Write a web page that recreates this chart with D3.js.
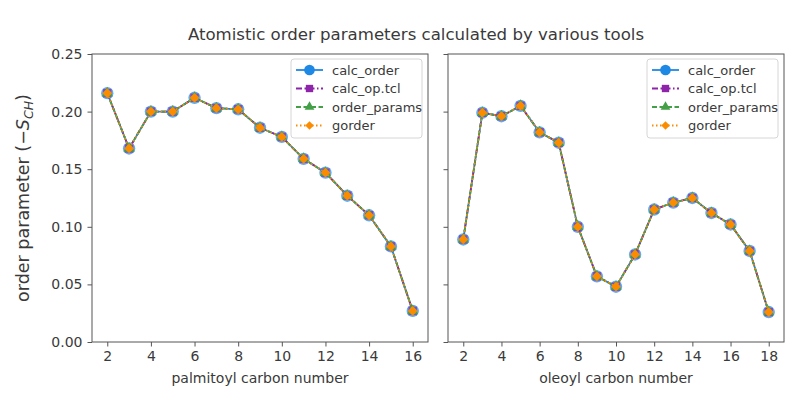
<!DOCTYPE html>
<html>
<head>
<meta charset="utf-8">
<script src="https://cdn.jsdelivr.net/npm/d3@7"></script>
<style>
  body { margin: 0; background: #fff; }
  svg, svg text { font-family: "DejaVu Sans", sans-serif; }
</style>
</head>
<body>
<svg id="container" width="800" height="400"></svg>
<script>
// data
var palmitoylCarbons = [2, 3, 4, 5, 6, 7, 8, 9, 10, 11, 12, 13, 14, 15, 16];
var palmitoylOrder = [0.216, 0.168, 0.200, 0.200, 0.212, 0.203, 0.202, 0.186, 0.178, 0.159, 0.147, 0.127, 0.110, 0.083, 0.027];
var oleoylCarbons = [2, 3, 4, 5, 6, 7, 8, 9, 10, 11, 12, 13, 14, 15, 16, 17, 18];
var oleoylOrder = [0.089, 0.199, 0.196, 0.205, 0.182, 0.173, 0.100, 0.057, 0.048, 0.076, 0.115, 0.121, 0.125, 0.112, 0.102, 0.079, 0.026];
var toolNames = ['calc_order', 'calc_op.tcl', 'order_params', 'gorder'];
var yTicks = [0, 0.05, 0.10, 0.15, 0.20, 0.25];
var palmitoylTicks = [2, 4, 6, 8, 10, 12, 14, 16];
var oleoylTicks = [2, 4, 6, 8, 10, 12, 14, 16, 18];

// styles for each tool (diamond = square turned 45 deg)
var styles = [
  {color: '#1e88e5', dash: null, marker: d3.symbolCircle, size: 120, rot: 0, alpha: 0.7},
  {color: '#8e24aa', dash: '6,2.5,1.5,2.5', marker: d3.symbolSquare, size: 72, rot: 0, alpha: 0.7},
  {color: '#43a047', dash: '5,2.5', marker: d3.symbolTriangle, size: 55, rot: 0, alpha: 0.9},
  {color: '#fb8c00', dash: '1.5,2.5', marker: d3.symbolSquare, size: 48, rot: 45, alpha: 1}
];

var svg = d3.select('#container');
var plotTop = 54, plotBottom = 342;
var y = d3.scaleLinear().domain([0, 0.25]).range([plotBottom, plotTop]);

var textColor = '#3a3a3a';
var axisColor = '#555';

//title
svg.append('text')
    .attr('x', 416).attr('y', 40)
    .attr('text-anchor', 'middle')
    .attr('font-size', 16.6)
    .attr('fill', textColor)
    .text('Atomistic order parameters calculated by various tools');

//y axis title
var yTitle = svg.append('text')
    .attr('transform', `translate(29, ${(plotTop + plotBottom) / 2}) rotate(-90)`)
    .attr('text-anchor', 'middle')
    .attr('font-size', 17.5)
    .attr('fill', textColor);
yTitle.append('tspan').text('order parameter (\u2212');
yTitle.append('tspan').attr('font-style', 'italic').text('S');
yTitle.append('tspan').attr('font-style', 'italic').attr('font-size', 12.5).attr('dy', 4).text('CH');
yTitle.append('tspan').attr('dy', -4).text(')');

drawPanel(92, 428, [1.3, 16.7], palmitoylTicks, palmitoylCarbons, palmitoylOrder, 'palmitoyl carbon number', true);
drawPanel(448, 784, [1.2, 18.8], oleoylTicks, oleoylCarbons, oleoylOrder, 'oleoyl carbon number', false);

function markerPath(s, scale){
  return d3.symbol().type(s.marker).size(s.size * scale)();
}

function drawPanel(left, right, domain, ticks, carbons, values, label, showY){
  var x = d3.scaleLinear().domain(domain).range([left, right]);
  var g = svg.append('g');

  //x axis
  var xAxis = g.append('g')
      .attr('transform', `translate(0, ${plotBottom})`)
      .call(d3.axisBottom(x).tickValues(ticks).tickSize(4.5).tickPadding(5).tickFormat(d3.format('d')));
  xAxis.attr('font-family', null);
  xAxis.select('.domain').remove();
  xAxis.selectAll('line').attr('stroke', axisColor);
  xAxis.selectAll('text').attr('font-size', 14).attr('fill', textColor);

  //y axis
  var yAxis = g.append('g')
      .attr('transform', `translate(${left}, 0)`)
      .call(d3.axisLeft(y).tickValues(yTicks).tickSize(4.5).tickPadding(5)
        .tickFormat(showY ? d3.format('.2f') : ''));
  yAxis.attr('font-family', null);
  yAxis.select('.domain').remove();
  yAxis.selectAll('line').attr('stroke', axisColor);
  yAxis.selectAll('text').attr('font-size', 14).attr('fill', textColor);

  //x axis title
  g.append('text')
      .attr('x', (left + right) / 2).attr('y', 383)
      .attr('text-anchor', 'middle')
      .attr('font-size', 14)
      .attr('fill', textColor)
      .text(label);

  //series, drawn in order so gorder ends on top
  var line = d3.line().x(d => x(d[0])).y(d => y(d[1]));
  var pts = carbons.map((c, i) => [c, values[i]]);
  toolNames.forEach(function(name, k){
    var s = styles[k];
    g.append('path')
        .datum(pts)
        .attr('d', line)
        .attr('fill', 'none')
        .attr('stroke', s.color)
        .attr('stroke-width', 1.8)
        .attr('stroke-dasharray', s.dash);
    g.append('g').selectAll('path')
        .data(pts)
      .enter().append('path')
        .attr('transform', d => `translate(${x(d[0])}, ${y(d[1])}) rotate(${s.rot})`)
        .attr('d', markerPath(s, 1))
        .attr('fill', s.color)
        .attr('fill-opacity', s.alpha);
  });

  //frame
  g.append('rect')
      .attr('x', left).attr('y', plotTop)
      .attr('width', right - left).attr('height', plotBottom - plotTop)
      .attr('fill', 'none')
      .attr('stroke', axisColor)
      .attr('stroke-width', 1);

  //legend
  var lx = right - 137, ly = plotTop + 5;
  var legend = g.append('g').attr('transform', `translate(${lx}, ${ly})`);
  legend.append('rect')
      .attr('width', 131).attr('height', 79)
      .attr('rx', 3)
      .attr('fill', 'rgba(255,255,255,0.8)')
      .attr('stroke', '#d6d6d6');
  toolNames.forEach(function(name, k){
    var s = styles[k];
    var ry = 11 + k * 18.5;
    legend.append('line')
        .attr('x1', 5).attr('x2', 32).attr('y1', ry).attr('y2', ry)
        .attr('stroke', s.color)
        .attr('stroke-width', 1.8)
        .attr('stroke-dasharray', s.dash);
    legend.append('path')
        .attr('transform', `translate(18.5, ${ry}) rotate(${s.rot})`)
        .attr('d', markerPath(s, 0.75))
        .attr('fill', s.color);
    legend.append('text')
        .attr('x', 41).attr('y', ry)
        .attr('dy', '0.35em')
        .attr('font-size', 13)
        .attr('fill', textColor)
        .text(name);
  });
}
</script>
</body>
</html>
